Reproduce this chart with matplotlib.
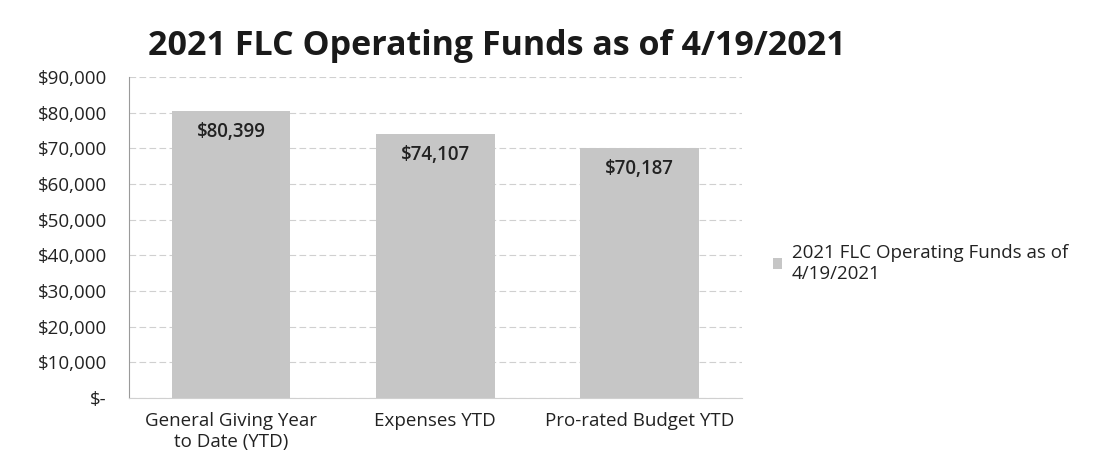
import matplotlib
matplotlib.use("Agg")
import matplotlib.pyplot as plt
from matplotlib.patches import Patch
from matplotlib.ticker import FuncFormatter

categories = ["General Giving Year\nto Date (YTD)", "Expenses YTD", "Pro-rated Budget YTD"]
values = [80399, 74107, 70187]
series_name = "2021 FLC Operating Funds as of\n4/19/2021"
title = "2021 FLC Operating Funds as of 4/19/2021"

plt.rcParams["font.family"] = ["Open Sans", "DejaVu Sans"]

fig = plt.figure(figsize=(11.02, 4.58), dpi=100)
ax = fig.add_axes([0.117, 0.131, 0.556, 0.701])

bar_color = "#c6c6c6"
x = range(len(categories))
bars = ax.bar(x, values, width=0.58, color=bar_color, zorder=2)

# value labels sit just inside the top of each bar
for rect, v in zip(bars, values):
    ax.annotate(f"${v:,}", xy=(rect.get_x() + rect.get_width() / 2, v),
                xytext=(0, -8), textcoords="offset points",
                ha="center", va="top", fontsize=13.5, fontweight="semibold",
                color="#222222", zorder=3)

ax.set_xlim(-0.5, len(categories) - 0.5)
ax.set_ylim(0, 90000)
ax.set_yticks(range(0, 90001, 10000))
ax.yaxis.set_major_formatter(FuncFormatter(lambda v, p: "$-" if v == 0 else f"${v:,.0f}"))
ax.set_xticks(list(x))
ax.set_xticklabels(categories)
ax.tick_params(axis="both", length=0, labelsize=13.5, colors="#222222")
ax.tick_params(axis="y", pad=16)
ax.tick_params(axis="x", pad=10)

ax.grid(axis="y", color="#d0d0d0", linestyle=(0, (6, 3)), linewidth=0.8, zorder=0)
for s in ["top", "right"]:
    ax.spines[s].set_visible(False)
ax.spines["left"].set_color("#9a9a9a")
ax.spines["left"].set_linewidth(0.8)
ax.spines["bottom"].set_color("#d0d0d0")
ax.spines["bottom"].set_linewidth(0.8)

fig.text(0.451, 0.90, title, ha="center", va="center", fontsize=24.5, fontweight="bold", color="#1a1a1a")

handles = [Patch(facecolor=bar_color, edgecolor="none")]
fig.legend(handles, [series_name], loc="center left", bbox_to_anchor=(0.686, 0.425),
           frameon=False, fontsize=13.5, handlelength=0.5, handleheight=0.5,
           handletextpad=0.5, labelcolor="#222222")

fig.savefig("out.png", dpi=100, facecolor="white")
